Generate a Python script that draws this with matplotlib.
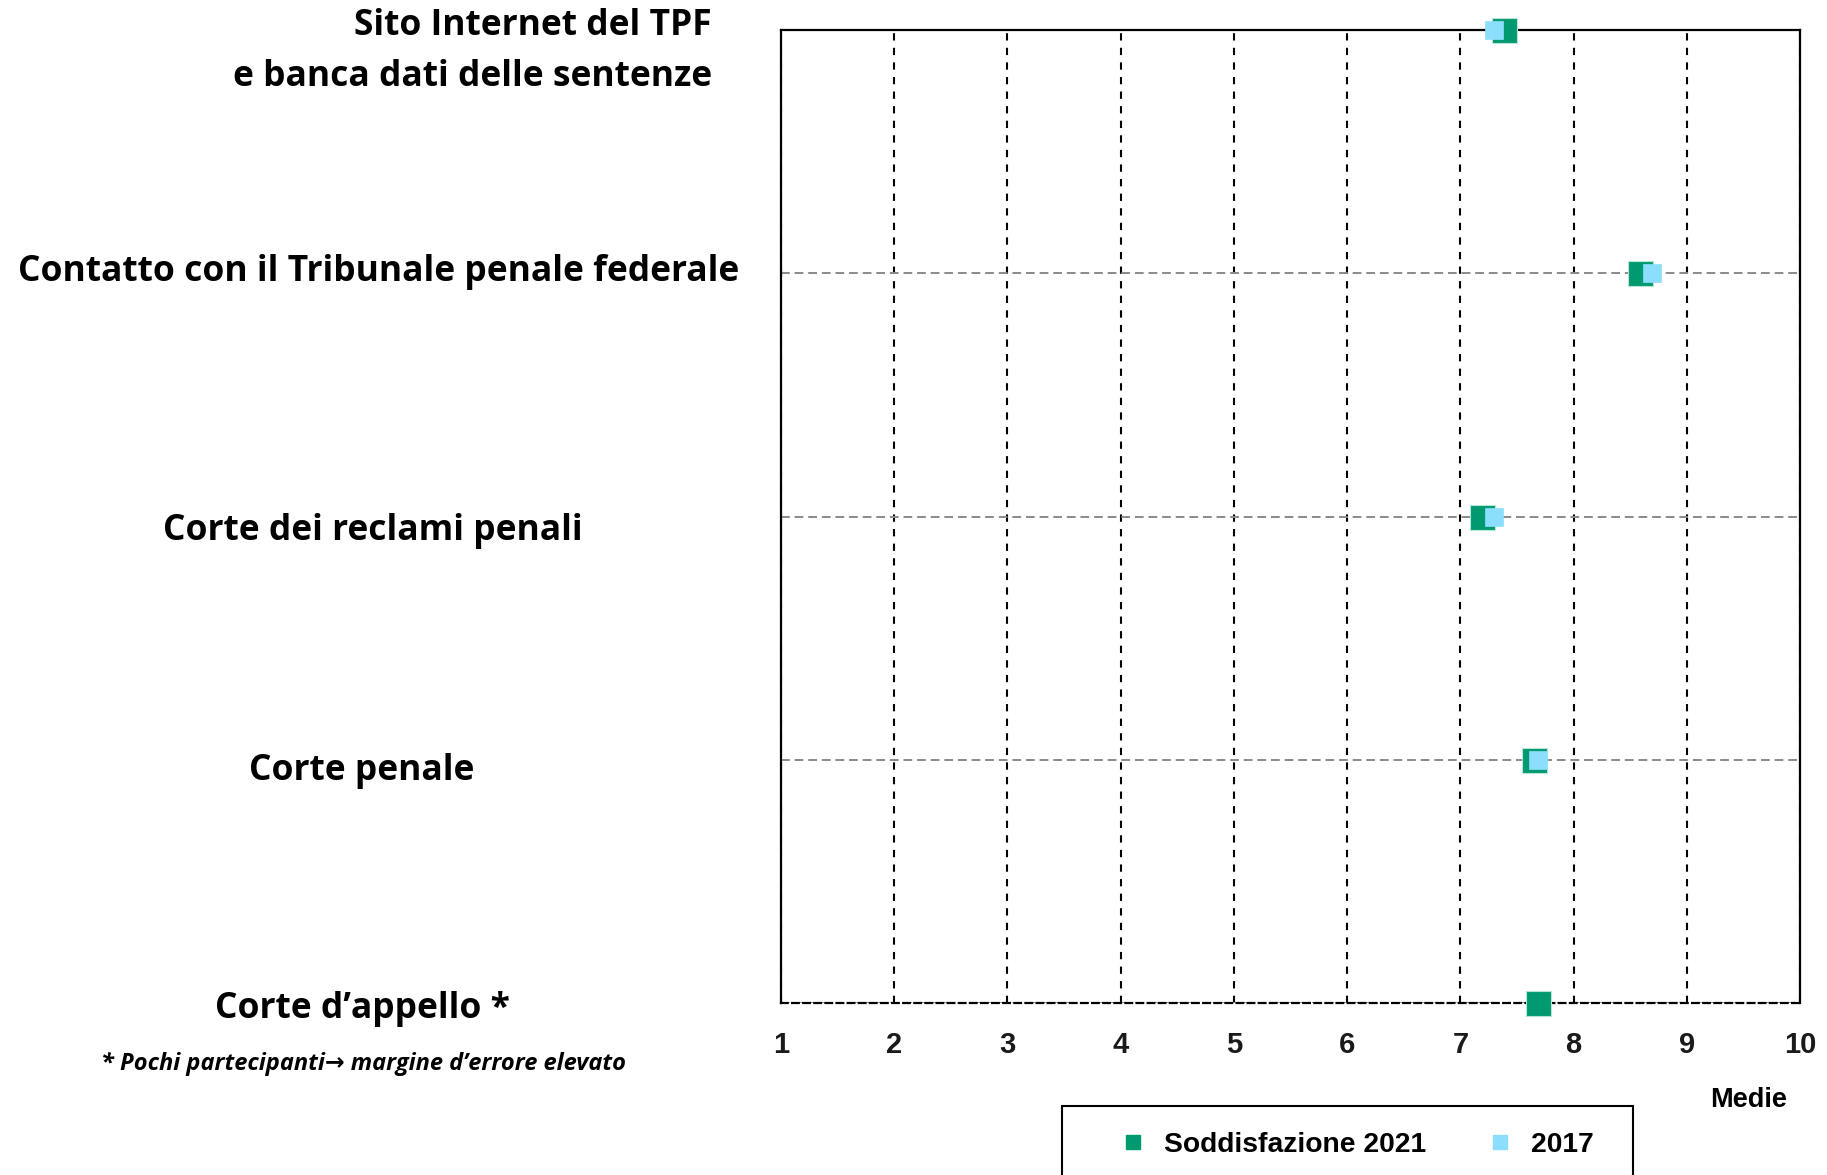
import numpy as np
import matplotlib.pyplot as plt
from matplotlib.patches import Rectangle
from matplotlib.lines import Line2D
from matplotlib.transforms import blended_transform_factory

# data
categories = [
    "Sito Internet del TPF\ne banca dati delle sentenze",
    "Contatto con il Tribunale penale federale",
    "Corte dei reclami penali",
    "Corte penale",
    "Corte d\u2019appello *",
]
sod_2021 = [7.39, 8.59, 7.19, 7.65, 7.69]
val_2017 = [7.30, 8.69, 7.30, 7.69, np.nan]
x_ticks = [1, 2, 3, 4, 5, 6, 7, 8, 9, 10]
series_names = ["Soddisfazione 2021", "2017"]
footnote = "* Pochi partecipanti\u2192 margine d\u2019errore elevato"

GREEN = "#009970"
LIGHT = "#8CDFFC"
W, H = 1827, 1175

label_font = ["Open Sans", "DejaVu Sans"]
narrow_font = ["Liberation Sans Narrow", "Liberation Sans", "DejaVu Sans"]

fig = plt.figure(figsize=(W / 100, H / 100), dpi=100)
ax = fig.add_axes([781 / W, 1 - 1003 / H, (1800 - 781) / W, (1003 - 30) / H])

y = np.arange(len(categories))

# grid: black dashed verticals, grey dashed horizontals
ax.set_axisbelow(True)
ax.set_xticks(x_ticks)
ax.set_yticks(y)
ax.set_yticklabels([])
ax.grid(axis="x", color="black", linewidth=1.5, linestyle=(0, (3.5, 3.5)))
ax.grid(axis="y", color="#8a8a8a", linewidth=1.4, linestyle=(0, (4.5, 2.5)))
ax.set_xlim(1, 10)
ax.set_ylim(len(categories) - 1, 0)

for s in ["top", "left", "right"]:
    ax.spines[s].set_color("black")
    ax.spines[s].set_linewidth(1.6)
ax.spines["bottom"].set_color("black")
ax.spines["bottom"].set_linewidth(1.6)
ax.spines["bottom"].set_linestyle((0, (3, 2)))

ax.tick_params(axis="both", length=0)
ax.tick_params(axis="x", pad=20)
for lab in ax.get_xticklabels():
    lab.set_fontfamily(narrow_font)
    lab.set_fontweight("bold")
    lab.set_fontsize(21)
    lab.set_color("#1a1a1a")

# points
ax.plot(sod_2021, y, linestyle="none", marker="s", markersize=18,
        markerfacecolor=GREEN, markeredgecolor="#b5e6d8", markeredgewidth=0.8,
        clip_on=False, zorder=5)
ax.plot(val_2017, y, linestyle="none", marker="s", markersize=13.5,
        markerfacecolor=LIGHT, markeredgecolor=LIGHT, markeredgewidth=0.5,
        clip_on=False, zorder=6)

# category labels on the left
trans = blended_transform_factory(ax.transAxes, ax.transData)
aw = 1800 - 781
label_x = [(712 - 781) / aw, (739 - 781) / aw, (373 - 781) / aw, (362 - 781) / aw, (362 - 781) / aw]
label_dy = [0.09, -0.005, 0.06, 0.045, 0.025]
label_ha = ["right", "right", "center", "center", "center"]
for i, txt in enumerate(categories):
    ax.text(label_x[i], y[i] + label_dy[i], txt, transform=trans,
            ha=label_ha[i], va="center", multialignment="right",
            fontsize=25.5, fontweight="bold", family=label_font,
            linespacing=1.55)

ax.text((363 - 781) / aw, 4.25, footnote, transform=trans, ha="center", va="center",
        fontsize=17, fontweight="bold", fontstyle="italic", family=label_font)

fig.text(1787 / W, 1 - 1100 / H, "Medie", ha="right", va="center",
         fontsize=19.5, fontweight="bold", family=narrow_font)

# legend in a box that runs off the bottom of the figure
fig.patches.append(Rectangle((1062 / W, -0.02), (1633 - 1062) / W, 0.02 + (1175 - 1106) / H,
                             transform=fig.transFigure, facecolor="white",
                             edgecolor="black", linewidth=1.5))
handles = [
    Line2D([], [], linestyle="none", marker="s", markersize=10, color=GREEN),
    Line2D([], [], linestyle="none", marker="s", markersize=10, color=LIGHT),
]
leg = fig.legend(handles, series_names, loc="center left", ncol=2,
                 bbox_to_anchor=(1105 / W, 1 - 1145 / H), frameon=False,
                 borderpad=0, handlelength=1.0, handletextpad=0.6, columnspacing=2.1,
                 prop={"family": narrow_font, "weight": "bold", "size": 20.3})

fig.savefig("out.png", dpi=100, facecolor="white")
